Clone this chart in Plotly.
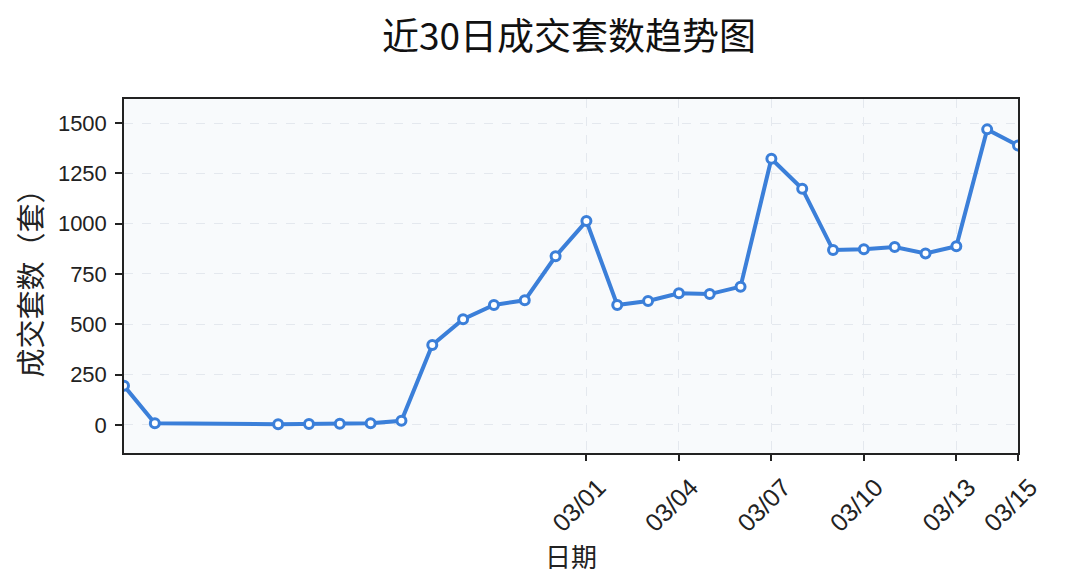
import plotly.graph_objects as go

dates = ["2025-02-14", "2025-02-15", "2025-02-19", "2025-02-20", "2025-02-21",
         "2025-02-22", "2025-02-23", "2025-02-24", "2025-02-25", "2025-02-26",
         "2025-02-27", "2025-02-28", "2025-03-01", "2025-03-02", "2025-03-03",
         "2025-03-04", "2025-03-05", "2025-03-06", "2025-03-07", "2025-03-08",
         "2025-03-09", "2025-03-10", "2025-03-11", "2025-03-12", "2025-03-13",
         "2025-03-14", "2025-03-15"]
counts = [194, 8, 3, 4, 5, 8, 20, 397, 525, 596, 619, 838, 1013, 596, 616,
          654, 650, 687, 1323, 1174, 869, 873, 884, 852, 888, 1469, 1389]
tick_dates = ["2025-03-01", "2025-03-04", "2025-03-07", "2025-03-10", "2025-03-13", "2025-03-15"]
tick_labels = ["03/01", "03/04", "03/07", "03/10", "03/13", "03/15"]
y_ticks = [0, 250, 500, 750, 1000, 1250, 1500]
title_text = "近30日成交套数趋势图"

FONT = "Liberation Sans, Arial, Noto Sans CJK SC, sans-serif"
CJK = "Noto Sans CJK SC, sans-serif"
BLUE = "#3b7fd9"

ML, MR, MT, MB = 116, 55, 91, 140

fig = go.Figure()
fig.add_trace(go.Scatter(
    x=dates, y=counts, mode="lines+markers",
    line=dict(color=BLUE, width=4),
    marker=dict(size=9, color="white", line=dict(color=BLUE, width=3)),
    showlegend=False,
))

fig.update_layout(
    width=1065, height=585,
    margin=dict(l=ML, r=MR, t=MT, b=MB),
    paper_bgcolor="white",
    plot_bgcolor="#f8fafc",
    font=dict(family=FONT, size=20, color="#222222"),
)
fig.add_annotation(
    text=title_text, xref="paper", yref="paper", x=0.5, y=1,
    xanchor="center", yanchor="middle", xshift=-2, yshift=65,
    showarrow=False, font=dict(family=CJK, size=37, color="#111111"),
)
fig.update_xaxes(
    type="date", range=["2025-02-14", "2025-03-15"],
    tickvals=tick_dates, ticktext=tick_labels, tickangle=-45,
    ticks="outside", ticklen=6, tickwidth=1.5, tickcolor="#222222",
    showline=True, linecolor="#222222", linewidth=1.5, mirror=True,
    showgrid=True, gridcolor="#e4e8ee", griddash="dash", gridwidth=1,
    zeroline=False, tickfont=dict(size=25),
    ticklabelshift=12, ticklabelstandoff=2,
    title=dict(text="日期", font=dict(family=CJK, size=26), standoff=4),
)
fig.update_yaxes(
    range=[-140, 1620], tickvals=y_ticks,
    ticks="outside", ticklen=7, tickwidth=1.5, tickcolor="#222222",
    showline=True, linecolor="#222222", linewidth=1.5, mirror=True,
    showgrid=True, gridcolor="#e4e8ee", griddash="dash", gridwidth=1,
    zeroline=False, tickfont=dict(size=22), ticklabelstandoff=4,
    title=dict(text="成交套数（套）", font=dict(family=CJK, size=29), standoff=14),
)

fig.write_html("out.html")
